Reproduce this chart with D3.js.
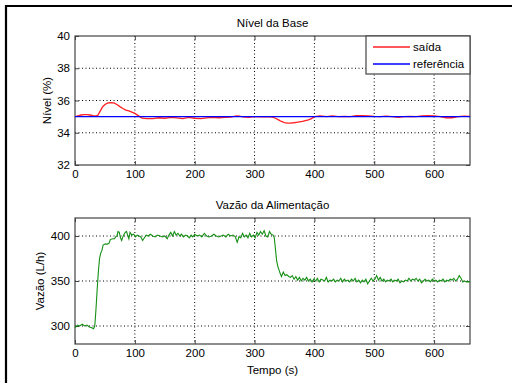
<!DOCTYPE html>
<html lang="pt">
<head>
<meta charset="UTF-8">
<title>Nível da Base / Vazão da Alimentação</title>
<script src="https://d3js.org/d3.v7.min.js"></script>
<style>
  body { margin: 0; background: #fff; }
  svg { display: block; font-family: "Liberation Sans", Arial, sans-serif; }
  .grid line { stroke: #000; stroke-width: 1; stroke-dasharray: 1,2.5; }
  .ax path, .ax line { stroke: #444; }
  .ax text { font-size: 11.5px; fill: #000; }
</style>
</head>
<body>
<div id="chart"></div>
<script>
// --- data ---
var xTicks = [0, 100, 200, 300, 400, 500, 600];
var nivelTicks = [32, 34, 36, 38, 40];
var vazaoTicks = [300, 350, 400];

var referenciaT = [0, 660];
var referenciaV = [35, 35];

var saidaT = [0,5,10,15,20,25,30,35,38,40,43,46,50,55,60,65,70,75,80,85,90,95,100,105,108,112,120,130,140,150,160,170,180,190,200,210,220,230,240,250,260,270,275,280,290,300,310,320,330,335,340,345,350,355,360,365,370,375,380,385,390,395,400,410,420,430,440,450,460,470,480,490,500,510,520,530,540,550,560,570,580,590,600,610,620,630,640,650,660];
var saidaV = [35.0,35.05,35.1,35.12,35.12,35.1,35.06,35.05,35.08,35.2,35.4,35.6,35.75,35.85,35.87,35.85,35.75,35.62,35.5,35.4,35.35,35.28,35.2,35.08,35.0,34.9,34.88,34.88,34.93,34.9,34.95,34.92,34.88,34.95,34.9,34.87,34.92,34.95,34.93,34.95,34.97,35.05,35.03,34.98,34.96,35.0,34.98,35.0,34.97,34.9,34.8,34.7,34.63,34.6,34.6,34.62,34.65,34.68,34.7,34.75,34.8,34.88,35.0,35.05,35.0,35.05,35.0,35.02,35.0,35.06,35.06,35.05,35.02,35.0,35.03,35.0,34.95,35.0,35.02,35.0,35.05,35.06,35.05,35.0,34.93,34.93,35.0,35.03,35.02];

var vazaoT = [0,4,8,12,16,20,24,28,31,33,35,37,39,41,43,45,47,50,54,57,59,63,66,68,70,72,74,76,78,80,82,84,86,88,90,92,95,98,101,104,107,110,113,116,119,122,126,130,134,138,142,146,150,154,157,160,163,166,169,172,175,178,181,185,188,191,194,197,200,204,208,212,216,220,224,228,232,236,240,244,248,252,256,260,264,268,271,274,277,280,283,286,289,292,295,298,301,304,307,310,313,316,319,322,325,328,331,333,335,337,339,341,343,345,348,351,354,357,360,363,366,369,372,375,378,381,384,387,390,393,396,399,402,405,408,411,414,417,420,423,426,429,432,435,438,441,444,447,450,453,456,459,462,465,468,471,474,477,480,483,486,489,492,495,498,501,504,507,510,513,516,519,522,525,528,531,534,537,540,543,546,549,552,555,558,561,564,567,570,573,576,579,582,585,588,591,594,597,600,603,606,609,612,615,618,621,624,627,630,633,636,639,642,645,648,651,654,657,660];
var vazaoV = [298,301,300,302,300,301,299,298,297,300,318,340,360,375,381,384,390,391,391,392,396,397,397,399,400,405,404,398,395,399,402,404,405,401,397,404,401,402,399,401,400,399,395,398,401,400,402,400,399,401,400,399,400,397,401,404,400,405,401,403,400,402,399,401,400,398,401,399,402,400,401,399,403,400,399,400,402,400,399,400,401,399,402,400,401,399,393,399,398,403,399,401,398,403,399,401,398,404,401,405,402,406,400,399,405,402,401,398,385,372,366,362,358,355,360,356,357,355,354,356,352,355,351,354,350,353,351,354,350,352,349,352,350,353,349,352,351,350,354,349,351,350,352,349,351,350,353,349,352,350,351,349,352,350,353,349,351,348,351,349,352,347,350,353,350,352,356,351,354,350,352,349,351,350,352,349,351,350,352,348,350,349,351,350,353,350,352,351,353,350,352,348,350,352,350,351,349,352,350,351,349,351,350,352,349,351,350,352,351,353,350,352,356,353,349,350,349,349,349];

// --- layout ---
var W = 512, H = 383;
var left = 75, right = 470;
var top1 = 36, bot1 = 165;
var top2 = 218, bot2 = 344;

var svg = d3.select("#chart").append("svg")
    .attr("width", W).attr("height", H);
svg.append("rect").attr("width", W).attr("height", H).attr("fill", "#fff");

// outer frame (only top and left edges show)
svg.append("path")
    .attr("d", "M6," + H + "V6H" + W)
    .attr("fill", "none").attr("stroke", "#000").attr("stroke-width", 2.2);

var x = d3.scaleLinear().domain([0, 660]).range([left, right]);
var y1 = d3.scaleLinear().domain([32, 40]).range([bot1, top1]);
var y2 = d3.scaleLinear().domain([280, 420]).range([bot2, top2]);

function panel(y, yTicks, top, bot) {
    var g = svg.append("g");
    // grid
    var grid = g.append("g").attr("class", "grid");
    grid.selectAll(".gx").data(xTicks.filter(function (d) { return d > 0; }))
        .join("line")
        .attr("x1", function (d) { return x(d); }).attr("x2", function (d) { return x(d); })
        .attr("y1", top).attr("y2", bot);
    grid.selectAll(".gy").data(yTicks.filter(function (d) { return y(d) > top + 1 && y(d) < bot - 1; }))
        .join("line")
        .attr("y1", function (d) { return y(d); }).attr("y2", function (d) { return y(d); })
        .attr("x1", left).attr("x2", right);

    g.append("g").attr("class", "ax")
        .attr("transform", "translate(0," + bot + ")")
        .call(d3.axisBottom(x).tickValues(xTicks).tickSize(-4).tickSizeOuter(0).tickPadding(5));
    g.append("g").attr("class", "ax")
        .attr("transform", "translate(0," + top + ")")
        .call(d3.axisTop(x).tickValues(xTicks).tickSize(-4).tickSizeOuter(0).tickFormat(""));
    g.append("g").attr("class", "ax")
        .attr("transform", "translate(" + left + ",0)")
        .call(d3.axisLeft(y).tickValues(yTicks).tickSize(-4).tickSizeOuter(0).tickPadding(5));
    g.append("g").attr("class", "ax")
        .attr("transform", "translate(" + right + ",0)")
        .call(d3.axisRight(y).tickValues(yTicks).tickSize(-4).tickSizeOuter(0).tickFormat(""));
    g.selectAll(".ax .domain").remove();
    g.append("rect")
        .attr("x", left).attr("y", top)
        .attr("width", right - left).attr("height", bot - top)
        .attr("fill", "none").attr("stroke", "#444").attr("stroke-width", 1.2);
    return g;
}

var p1 = panel(y1, nivelTicks, top1, bot1);
var p2 = panel(y2, vazaoTicks, top2, bot2);

function pts(ts, vs) {
    return ts.map(function (t, i) { return [t, vs[i]]; });
}

var line1 = d3.line()
    .x(function (d) { return x(d[0]); })
    .y(function (d) { return y1(d[1]); });
var line2 = d3.line()
    .x(function (d) { return x(d[0]); })
    .y(function (d) { return y2(d[1]); });

p1.append("path").datum(pts(saidaT, saidaV))
    .attr("d", line1).attr("fill", "none")
    .attr("stroke", "#ff2020").attr("stroke-width", 1.3);
p1.append("path").datum(pts(referenciaT, referenciaV))
    .attr("d", line1).attr("fill", "none")
    .attr("stroke", "#0000ff").attr("stroke-width", 1.3);

p2.append("path").datum(pts(vazaoT, vazaoV))
    .attr("d", line2).attr("fill", "none")
    .attr("stroke", "#139013").attr("stroke-width", 1.1);

// titles and labels
function label(txt, px, py, rot) {
    var t = svg.append("text")
        .attr("text-anchor", "middle")
        .attr("font-size", "11.5px")
        .attr("fill", "#000")
        .text(txt);
    if (rot) t.attr("transform", "translate(" + px + "," + py + ") rotate(-90)");
    else t.attr("x", px).attr("y", py);
}
label("Nível da Base", (left + right) / 2, 27);
label("Vazão da Alimentação", (left + right) / 2, 209);
label("Tempo (s)", (left + right) / 2, 374);
label("Nível (%)", 51, (top1 + bot1) / 2, true);
label("Vazão (L/h)", 44, (top2 + bot2) / 2, true);

// legend
var legend = svg.append("g");
legend.append("rect")
    .attr("x", 366).attr("y", top1).attr("width", right - 366).attr("height", 38)
    .attr("fill", "#fff").attr("stroke", "#444").attr("stroke-width", 1.2);
var items = [["saída", "#ff2020", 47], ["referência", "#0000ff", 64]];
items.forEach(function (it) {
    legend.append("line")
        .attr("x1", 373).attr("x2", 410).attr("y1", it[2]).attr("y2", it[2])
        .attr("stroke", it[1]).attr("stroke-width", 1.3);
    legend.append("text")
        .attr("x", 413).attr("y", it[2] + 4)
        .attr("font-size", "11.5px").attr("fill", "#000")
        .text(it[0]);
});
</script>
</body>
</html>
